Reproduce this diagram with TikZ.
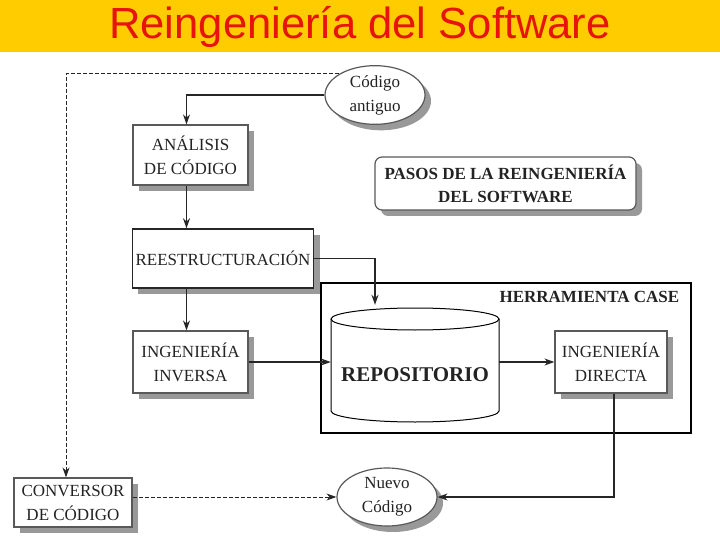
\documentclass[tikz,border=0pt]{standalone}
\usepackage{fontspec}
\setmainfont{Liberation Serif}
\newfontfamily\titlefont{Liberation Sans}
\usetikzlibrary{arrows.meta,shapes.geometric,shadows}
\definecolor{banner}{RGB}{255,204,0}
\definecolor{titulo}{RGB}{230,20,10}
\definecolor{texto}{RGB}{35,35,35}
\tikzset{
  caja/.style={draw=black!65,line width=1.2pt,fill=white,align=center,text=texto,
    font=\fontsize{17}{24}\selectfont,
    drop shadow={shadow xshift=6pt,shadow yshift=-6pt,fill=black!40,opacity=1}},
  nube/.style={caja,ellipse,inner sep=1pt},
  flecha/.style={-{Stealth[length=10pt,width=7pt]},line width=1.3pt,black!85},
  discont/.style={flecha,dashed,line width=1pt,dash pattern=on 4pt off 2pt}
}
\begin{document}
\begin{tikzpicture}[x=1pt,y=-1pt]
\useasboundingbox (0,0) rectangle (720,540);
\fill[banner] (0,0) rectangle (720,52);
\node[font=\titlefont\fontsize{43.6}{46}\selectfont,text=titulo] (titulo) at (360,27) {Reingeniería del Software};
% herramienta case
\node[draw,line width=1.5pt,minimum width=370pt,minimum height=150pt] (case) at (506,358) {};
\node[anchor=north east,font=\bfseries\fontsize{17}{18}\selectfont,text=texto] (caselbl) at ([xshift=-9pt,yshift=-5pt]case.north east) {HERRAMIENTA CASE};
% repositorio (cilindro)
\draw[line width=1pt,fill=white] (331,319) -- (331,411) arc[start angle=180,end angle=0,x radius=84,y radius=11] -- (499,319);
\draw[line width=1pt] (415,319) ellipse [x radius=84,y radius=11];
\node[minimum width=168pt,minimum height=100pt,font=\bfseries\fontsize{21}{24}\selectfont,text=texto] (repo) at (415,375) {REPOSITORIO};
% cajas
\node[nube,minimum width=100pt,minimum height=50pt] (antiguo) at (375,95) {Código\\antiguo};
\node[caja,minimum width=115pt,minimum height=60pt] (analisis) at (190.5,155) {ANÁLISIS\\DE CÓDIGO};
\node[caja,rounded corners=7pt,font=\bfseries\fontsize{17}{23}\selectfont,minimum width=261pt,minimum height=53pt] (pasos) at (505.5,183.5) {PASOS DE LA REINGENIERÍA\\DEL SOFTWARE};
\node[caja,line width=1.5pt,draw=black!85,minimum width=180pt,minimum height=59pt] (rees) at (223,258.5) {REESTRUCTURACIÓN};
\node[caja,minimum width=115pt,minimum height=62pt] (inversa) at (190.5,362) {INGENIERÍA\\INVERSA};
\node[caja,minimum width=112pt,minimum height=62pt] (directa) at (611,362) {INGENIERÍA\\DIRECTA};
\node[caja,minimum width=118pt,minimum height=49pt] (conversor) at (73,502.5) {CONVERSOR\\DE CÓDIGO};
\node[nube,minimum width=100pt,minimum height=58pt] (nuevo) at (387,497) {Nuevo\\Código};
% conectores
\draw[flecha] (antiguo.west) -| ([xshift=-4pt]analisis.north);
\draw[flecha] ([xshift=-4pt]analisis.south) -- ([xshift=-4pt]analisis.south |- rees.north);
\draw[flecha] ([xshift=-4pt]analisis.south |- rees.south) -- ([xshift=-4pt]inversa.north);
\draw[flecha] (rees.east) -| ([xshift=-40pt,yshift=20pt]repo.north);
\draw[flecha] (inversa.east) -- (inversa.east -| repo.west);
\draw[flecha] (directa.west -| repo.east) -- (directa.west);
\draw[flecha] ([xshift=3pt]directa.south) |- (nuevo.east);
\draw[discont] (antiguo.north west) -| ([xshift=-7pt]conversor.north);
\draw[discont] (conversor.east |- nuevo.west) -- (nuevo.west);
\end{tikzpicture}
\end{document}
